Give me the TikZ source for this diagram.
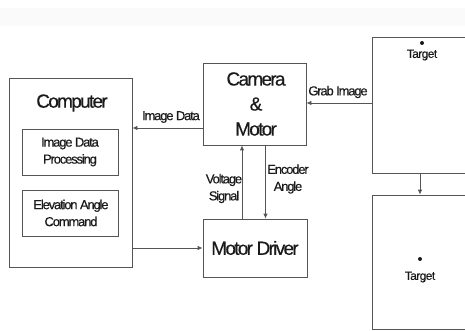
\documentclass[tikz,border=0pt]{standalone}
\usepackage{fontspec}
\setmainfont[LetterSpace=-9,FakeBold=0.4]{Liberation Sans}
\newfontfamily\tgtfont[LetterSpace=-5,FakeBold=0.4]{Liberation Sans}
\usetikzlibrary{arrows.meta}
\definecolor{linec}{HTML}{555555}
\definecolor{textc}{HTML}{1A1A1A}
\tikzset{
  blk/.style={draw=linec, line width=0.8pt, rectangle, inner sep=0pt, text=textc},
  big/.style={font=\fontsize{19}{25}\selectfont, text=textc, align=center, inner sep=0pt},
  small/.style={font=\fontsize{13}{17}\selectfont, text=textc, align=center, inner sep=0pt},
  tgt/.style={font=\tgtfont\fontsize{12}{14}\selectfont, text=textc, inner sep=0pt},
  arr/.style={draw=linec, line width=0.8pt, -{Latex[length=5pt,width=4.5pt]}},
}
\begin{document}
\begin{tikzpicture}[x=1pt,y=-1pt]
\clip (0,0) rectangle (465,331);
\fill[black!2] (0,8) rectangle (465,26);
% blocks
\node[blk, minimum width=123pt, minimum height=189pt] (comp) at (70.5,172.5) {};
\node[big] (comptxt) at (72,103) {Computer};
\node[blk, minimum width=96pt, minimum height=46pt] (idp) at (70,152) {};
\node[small] (idptxt) at (70,152) {Image Data\\Processing};
\node[blk, minimum width=96pt, minimum height=46pt] (eac) at (70,213) {};
\node[small] (eactxt) at (71,213) {Elevation Angle\\Command};
\node[blk, minimum width=103pt, minimum height=82pt] (cam) at (254.5,104) {};
\node[big] (camtxt) at (256,104) {Camera\\\&\\Motor};
\node[blk, minimum width=104pt, minimum height=58pt] (md) at (255,248) {};
\node[big] (mdtxt) at (255,248) {Motor Driver};
\node[blk, minimum width=148pt, minimum height=136pt] (t1) at (446,105) {};
\node[blk, minimum width=148pt, minimum height=134pt] (t2) at (446,262) {};
% targets
\fill[textc] (422,43) circle (2pt);
\node[tgt] (t1txt) at (422,55) {Target};
\fill[textc] (420,259) circle (2pt);
\node[tgt] (t2txt) at (420,277) {Target};
% connectors
\draw[arr] ([yshift=-24pt]cam.west) -- ([yshift=-24pt]cam.west -| comp.east);
\node[small] (imgdata) at (171,117) {Image Data};
\draw[arr] ([yshift=2pt]t1.west) -- ([yshift=2pt]t1.west -| cam.east);
\node[small] (grab) at (338,92) {Grab Image};
\draw[arr] (md.west -| comp.east) -- (md.west);
\draw[arr] ([xshift=-13pt]md.north) -- ([xshift=-13pt]md.north |- cam.south);
\node[small] (volt) at (224,188.5) {Voltage\\Signal};
\draw[arr] ([xshift=11pt]cam.south) -- ([xshift=11pt]cam.south |- md.north);
\node[small] (enc) at (288,179) {Encoder\\Angle};
\draw[arr] ([xshift=-26pt]t1.south) -- ([xshift=-26pt]t1.south |- t2.north);
\end{tikzpicture}
\end{document}
